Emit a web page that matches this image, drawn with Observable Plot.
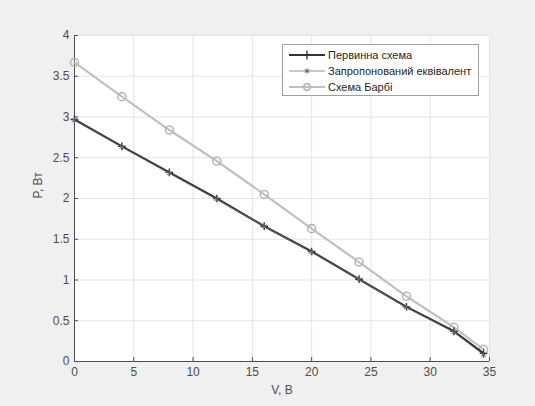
<!DOCTYPE html>
<html><head><meta charset="utf-8">
<script src="https://cdn.jsdelivr.net/npm/d3@7"></script>
<script src="https://cdn.jsdelivr.net/npm/@observablehq/plot@0.6"></script>
<style>
body{margin:0;background:#f0f0f0;font-family:"Liberation Sans",Arial,sans-serif;}
#wrap{position:relative;width:535px;height:406px;}
#legend{position:absolute;left:282px;top:44px;width:197px;height:52px;background:#fff;border:1px solid #a0a0a0;box-sizing:border-box;font-size:11px;color:#262626;}
#legend .row{display:flex;align-items:center;height:16px;margin-left:4px;}
#legend .row:first-child{margin-top:2px}
</style></head><body>
<div id="wrap"></div>
<script>
const V = [0, 4, 8, 12, 16, 20, 24, 28, 32, 34.5];
const pOriginal = [2.97, 2.64, 2.32, 2.0, 1.66, 1.35, 1.01, 0.67, 0.37, 0.10];
const pProposed = [2.96, 2.63, 2.31, 1.99, 1.66, 1.34, 1.01, 0.66, 0.36, 0.08];
const pBarbi = [3.67, 3.25, 2.84, 2.46, 2.05, 1.63, 1.22, 0.80, 0.42, 0.15];
const names = ["Первинна схема", "Запропонований еквівалент", "Схема Барбі"];
const xTicks = [0, 5, 10, 15, 20, 25, 30, 35];
const yTicks = [0, 0.5, 1, 1.5, 2, 2.5, 3, 3.5, 4];

const toRows = ys => V.map((v, i) => ({v, p: ys[i]}));
const orig = toRows(pOriginal), prop = toRows(pProposed), barbi = toRows(pBarbi);
const axisCol = "#4d4d4d";
const fmt = d => String(d);

const chart = Plot.plot({
  width: 535, height: 406,
  marginLeft: 74, marginRight: 46, marginTop: 35, marginBottom: 45,
  style: {background: "#f0f0f0", fontFamily: "Liberation Sans, Arial, sans-serif", fontSize: "12px", color: axisCol},
  x: {domain: [0, 35], ticks: xTicks, label: null},
  y: {domain: [0, 4], ticks: yTicks, label: null},
  marks: [
    Plot.frame({fill: "white", stroke: "none"}),
    Plot.gridX(xTicks, {stroke: "#e3e3e3", strokeOpacity: 1}),
    Plot.gridY(yTicks, {stroke: "#e3e3e3", strokeOpacity: 1}),
    Plot.axisX(xTicks, {tickSize: -4, tickPadding: 10, stroke: axisCol, fill: axisCol, label: null, fontSize: 12, tickFormat: fmt}),
    Plot.axisY(yTicks, {tickSize: -4, tickPadding: 9, stroke: axisCol, fill: axisCol, label: null, fontSize: 12, tickFormat: fmt}),
    Plot.ruleY([0], {stroke: axisCol}),
    Plot.ruleX([0], {stroke: axisCol}),
    Plot.line(barbi, {x: "v", y: "p", stroke: "#c0c0c0", strokeWidth: 2.2}),
    Plot.dot(barbi, {x: "v", y: "p", stroke: "#b8b8b8", strokeWidth: 1.6, r: 4, symbol: "circle", fill: "none"}),
    Plot.line(orig, {x: "v", y: "p", stroke: "#333333", strokeWidth: 2.2}),
    Plot.dot(orig, {x: "v", y: "p", stroke: "#333333", strokeWidth: 1.4, r: 2.6, symbol: "plus"}),
    Plot.line(prop, {x: "v", y: "p", stroke: "#777777", strokeWidth: 0.7}),
    Plot.dot(prop, {x: "v", y: "p", stroke: "#666666", strokeWidth: 1, r: 2.6, symbol: "asterisk"}),
    Plot.text(["V, B"], {frameAnchor: "bottom", dy: 32, fill: axisCol, fontSize: 12}),
    Plot.text(["P, Вт"], {frameAnchor: "left", dx: -36, rotate: -90, fill: axisCol, fontSize: 12})
  ]
});
const wrap = document.getElementById("wrap");
wrap.appendChild(chart);

const legendStyles = [
  {stroke: "#333333", w: 2.2, sym: "plus", ms: "#333333", msw: 1.4, r: 2.8},
  {stroke: "#777777", w: 0.8, sym: "asterisk", ms: "#666666", msw: 1, r: 2.6},
  {stroke: "#c0c0c0", w: 2.2, sym: "circle", ms: "#b8b8b8", msw: 1.6, r: 3.4}
];
const leg = document.createElement("div");
leg.id = "legend";
names.forEach((n, i) => {
  const s = legendStyles[i];
  const row = document.createElement("div");
  row.className = "row";
  const sym = d3.symbol(s.sym === "plus" ? d3.symbolPlus : s.sym === "asterisk" ? d3.symbolAsterisk : d3.symbolCircle, Math.PI * s.r * s.r)();
  row.innerHTML = `<svg width="40" height="16"><line x1="2" x2="38" y1="8" y2="8" stroke="${s.stroke}" stroke-width="${s.w}"/><path d="${sym}" transform="translate(20,8)" fill="none" stroke="${s.ms}" stroke-width="${s.msw}"/></svg><span style="margin-left:1px">${n}</span>`;
  leg.appendChild(row);
});
wrap.appendChild(leg);
</script>
</body></html>
